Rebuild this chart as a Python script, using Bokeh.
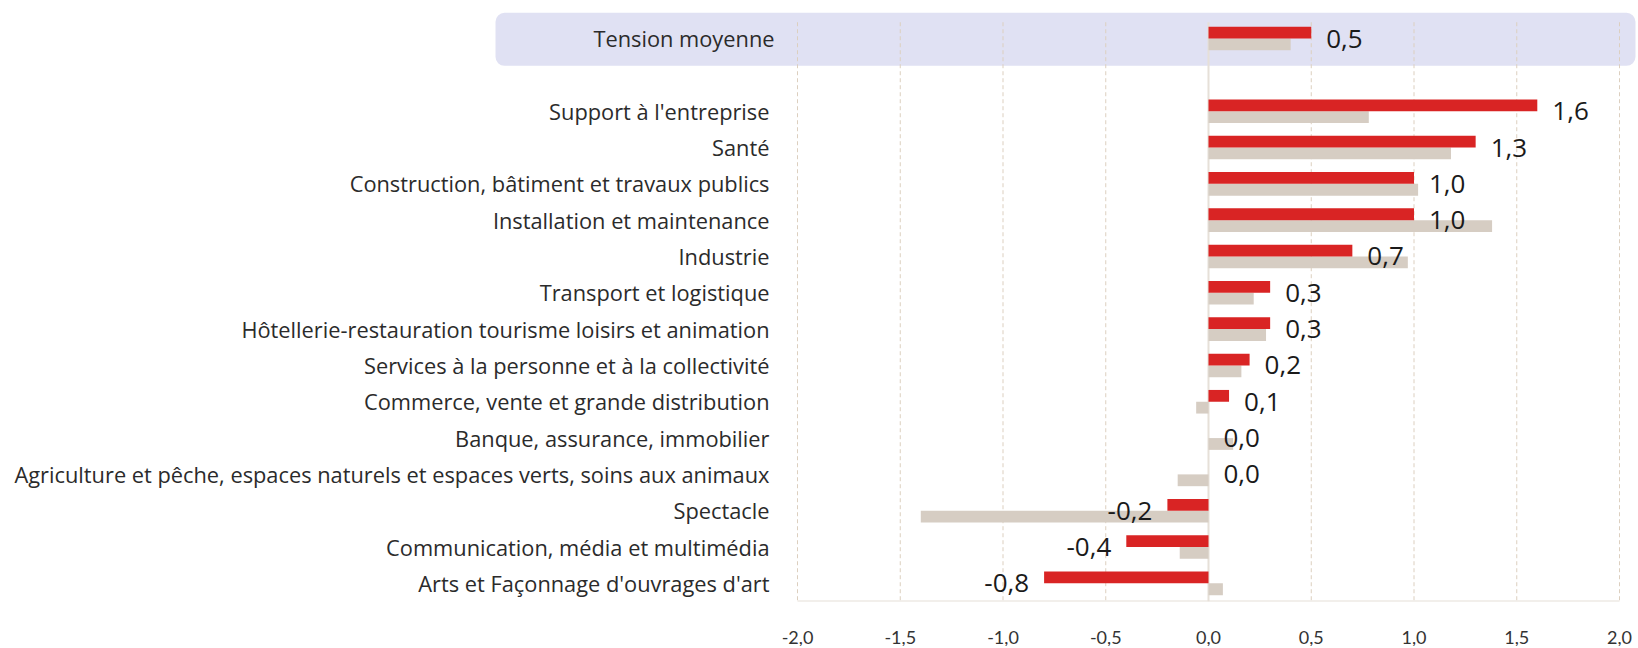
from bokeh.plotting import figure
from bokeh.models import BoxAnnotation, Range1d, FixedTicker, CustomJSTickFormatter, ColumnDataSource
from bokeh.core.properties import value
from bokeh.embed import file_html
from bokeh.resources import INLINE

categories = [
    "Arts et Façonnage d'ouvrages d'art",
    "Communication, média et multimédia",
    "Spectacle",
    "Agriculture et pêche, espaces naturels et espaces verts, soins aux animaux",
    "Banque, assurance, immobilier",
    "Commerce, vente et grande distribution",
    "Services à la personne et à la collectivité",
    "Hôtellerie-restauration tourisme loisirs et animation",
    "Transport et logistique",
    "Industrie",
    "Installation et maintenance",
    "Construction, bâtiment et travaux publics",
    "Santé",
    "Support à l'entreprise",
]
valeurs_recentes = [-0.8, -0.4, -0.2, 0.0, 0.0, 0.1, 0.2, 0.3, 0.3, 0.7, 1.0, 1.0, 1.3, 1.6]
valeurs_precedentes = [0.07, -0.14, -1.40, -0.15, 0.12, -0.06, 0.16, 0.28, 0.22, 0.97, 1.38, 1.02, 1.18, 0.78]

moyenne_label = "Tension moyenne"
moyenne_recente = 0.5
moyenne_precedente = 0.4

ticks = [-2.0, -1.5, -1.0, -0.5, 0.0, 0.5, 1.0, 1.5, 2.0]

RED = "#d92424"
GREY = "#d6cdc3"
FONT = "Open Sans"
TICK_FONT = "Lato"

# geometry
W, H = 1636, 646
px_per_unit = 822 / 4.0
left_px = 797  # frame px from left to x=-2
x0 = -2 - left_px / px_per_unit
x1 = x0 + W / px_per_unit
row_px = 36.56
frame_h = 605
y0 = -0.5
y1 = y0 + frame_h / row_px

p = figure(width=W, height=H, output_backend="svg", toolbar_location=None,
           x_range=Range1d(x0, x1), y_range=Range1d(y0, y1),
           min_border_left=0, min_border_right=0, min_border_top=0, min_border_bottom=H - frame_h)
p.outline_line_color = None
p.background_fill_color = "white"
p.border_fill_color = "white"
p.yaxis.visible = False
p.xgrid.grid_line_color = None
p.ygrid.grid_line_color = None

xa = p.xaxis[0]
xa.ticker = FixedTicker(ticks=ticks)
xa.formatter = CustomJSTickFormatter(code="return tick.toFixed(1).replace('.', ',');")
xa.axis_line_color = None
xa.major_tick_line_color = None
xa.minor_tick_line_color = None
xa.major_label_text_font = TICK_FONT
xa.major_label_text_font_size = "18px"
xa.major_label_text_color = "#333333"
xa.major_label_standoff = 23

n = len(categories)
ys = list(range(n))
y_moy = n + 1

# band behind the mean row
p.add_layout(BoxAnnotation(left=-2 - 302 / px_per_unit, right=x1 - 1 / px_per_unit,
                           bottom=y_moy - 0.75, top=y_moy + 0.71,
                           fill_color="#e0e1f3", fill_alpha=1.0, line_color=None,
                           border_radius=9, level="underlay"))

# gridlines
grid_top = y_moy + 0.45
dashed = [t for t in ticks if t != 0]
p.segment(x0=dashed, x1=dashed, y0=[grid_top] * len(dashed), y1=[-0.5] * len(dashed),
          line_color="#dccfbf", line_width=1, line_dash="4 3")
p.segment(x0=[0], x1=[0], y0=[grid_top], y1=[-0.5], line_color="#e6e0d8", line_width=2)
p.segment(x0=[ticks[0]], x1=[ticks[-1]], y0=[-0.5], y1=[-0.5], line_color="#e6e0d8", line_width=2)

bh = 0.325
all_y = ys + [y_moy]
all_red = valeurs_recentes + [moyenne_recente]
all_grey = valeurs_precedentes + [moyenne_precedente]

p.hbar(y=[y - bh / 2 for y in all_y], left=0, right=all_grey, height=bh,
       fill_color=GREY, line_color=None)
p.hbar(y=[y + bh / 2 for y in all_y], left=0, right=all_red, height=bh,
       fill_color=RED, line_color=None)

# value labels
off = 15 / px_per_unit
lab_src = ColumnDataSource(dict(
    x=[v + off if v >= 0 else v - off for v in all_red],
    y=all_y,
    t=[f"{v:.1f}".replace(".", ",") for v in all_red],
    a=["left" if v >= 0 else "right" for v in all_red],
))
p.text(x="x", y="y", text="t", text_align="a", source=lab_src,
       text_baseline="middle", text_font=value(FONT), text_font_size="26px",
       text_color="#1a1a1a")

# category labels
p.text(x=[-2 - 28 / px_per_unit] * n, y=ys, text=categories, text_align="right",
       text_baseline="middle", text_font=value(FONT), text_font_size="21.8px",
       text_color="#2b2b2b")
p.text(x=[-2 - 23 / px_per_unit], y=[y_moy], text=[moyenne_label], text_align="right",
       text_baseline="middle", text_font=value(FONT), text_font_size="21.8px",
       text_color="#2b2b2b")

open("out.html", "w").write(file_html(p, INLINE))
